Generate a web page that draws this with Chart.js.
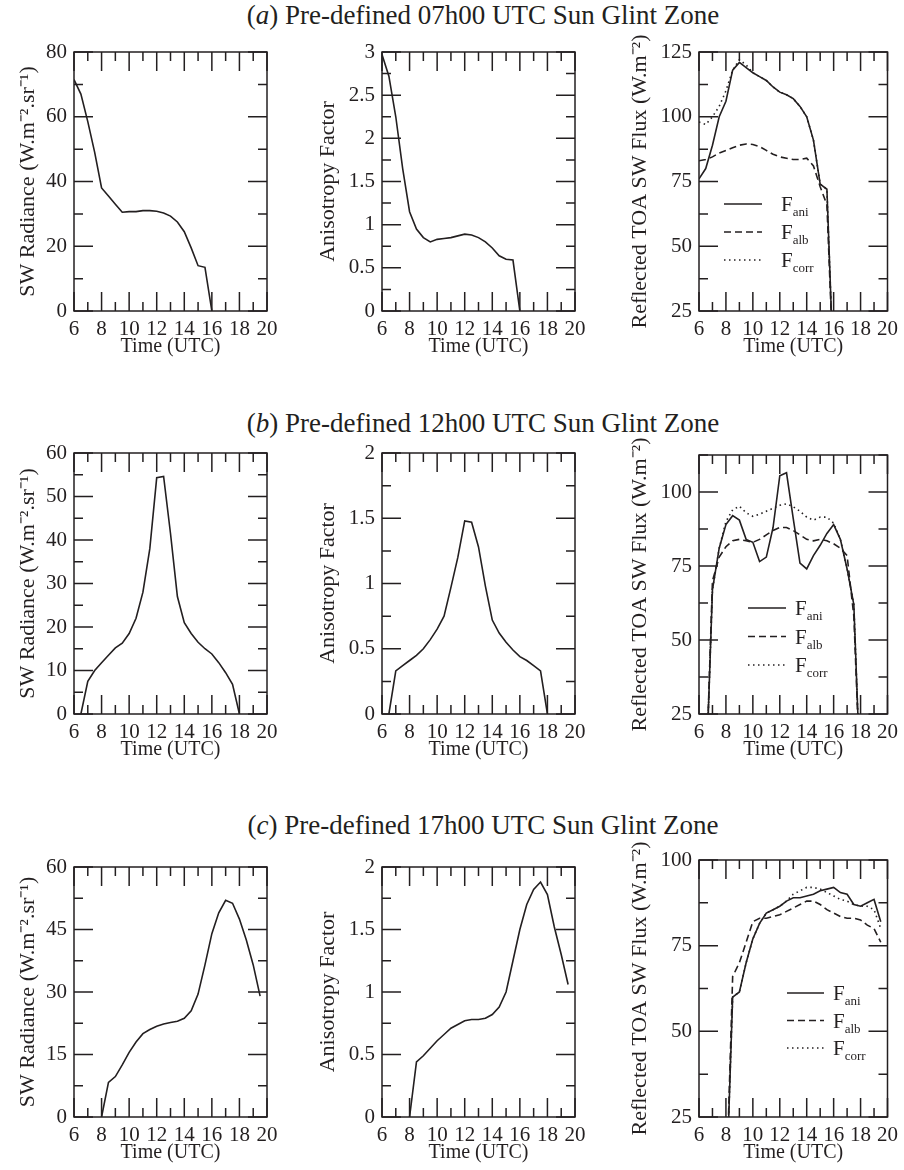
<!DOCTYPE html>
<html><head><meta charset="utf-8">
<script src="https://cdn.jsdelivr.net/npm/chart.js@4.4.1/dist/chart.umd.min.js"></script>
<style>
html,body{margin:0;padding:0;background:#fff;}
body{width:904px;height:1170px;position:relative;overflow:hidden;font-family:"Liberation Serif","Times New Roman",serif;color:#231f20}
.ttl{position:absolute;left:0;width:966px;text-align:center;font-size:27px;line-height:30px;white-space:nowrap}
canvas{position:absolute}
</style></head><body>
<div class="ttl" style="top:0px">(<i>a</i>) Pre-defined 07h00 UTC Sun Glint Zone</div>
<div class="ttl" style="top:408px">(<i>b</i>) Pre-defined 12h00 UTC Sun Glint Zone</div>
<div class="ttl" style="top:810px">(<i>c</i>) Pre-defined 17h00 UTC Sun Glint Zone</div>
<script>
// ---------------- DATA ----------------
const xTickValues = [6, 8, 10, 12, 14, 16, 18, 20];

const timeA = [6,6.5,7,7.5,8,8.5,9,9.5,10,10.5,11,11.5,12,12.5,13,13.5,14,14.5,15,15.5,16];
const radianceA = [71.5,67,58.5,49,38,35.5,33,30.5,30.7,30.7,31,31,30.8,30.3,29.3,27.5,24.5,19.5,14,13.5,0];
const anisoA = [2.97,2.72,2.25,1.65,1.15,0.95,0.85,0.8,0.83,0.84,0.85,0.87,0.89,0.88,0.85,0.8,0.73,0.64,0.6,0.59,0];
const fAniA = [76,80,89,100,106,118,121,119,117,115.5,114,111.5,109.5,108.5,107,104,100,91,74,72,0];
const fAlbA = [83,83.5,84.5,86,87,88,89,89.5,89.3,88.5,87,85.5,84.5,84,83.5,83.5,84,81,73,66,0];
const fCorrA = [98,97,100,104,110,118,122,120,117,115.5,114,111.5,109.5,108.5,107,104,100,91,74,72,0];

const timeB = [6.5,7,7.5,8,8.5,9,9.5,10,10.5,11,11.5,12,12.5,13,13.5,14,14.5,15,15.5,16,16.5,17,17.5,18];
const radianceB = [0,7.5,10,11.8,13.5,15.2,16.3,18.5,22,28,38,54.3,54.6,41.5,27,21,18.5,16.5,15,13.8,11.8,9.5,6.8,0];
const anisoB = [0,0.33,0.37,0.41,0.45,0.5,0.57,0.65,0.75,0.97,1.2,1.48,1.47,1.28,0.98,0.72,0.62,0.55,0.49,0.44,0.41,0.37,0.33,0];
const fAniB = [0,67,81,89,92,90.5,84,83,76.5,78,88,105.5,106.5,91,76,74,78.5,82,86,89,84,74,62,0];
const fAlbB = [0,70,78,81.5,83.5,84,83.5,83,84,85.5,87,88,88,87,85.5,84,83.5,84,83.5,82.5,81,78.5,58,0];
const fCorrB = [0,67,81,90,94,95.2,93,91.8,92.5,93.5,94.5,95.5,96,95,93.5,91.5,90.5,91.5,91.5,89.5,84,74,62,0];

const timeC = [8,8.5,9,9.5,10,10.5,11,11.5,12,12.5,13,13.5,14,14.5,15,15.5,16,16.5,17,17.5,18,18.5,19,19.5];
const radianceC = [0,8.3,9.7,12.5,15.5,18,20,21,21.8,22.3,22.7,23,23.7,25.5,29.5,36.5,44,49,52,51.3,47.5,42.5,36.5,29];
const anisoC = [0,0.44,0.49,0.55,0.61,0.66,0.71,0.74,0.77,0.78,0.78,0.79,0.82,0.88,1.0,1.25,1.5,1.7,1.82,1.88,1.78,1.52,1.3,1.06];
const fAniC = [0,60,61.5,70,77,81.5,84.5,85.5,86.5,88,89,89,89.5,90,91,91.5,92,90.5,90,87,86.5,87.5,88.5,82];
const fAlbC = [0,66,70,76,82,83,83,83.5,84,85,86,87,88,88,87,85.5,84.5,83.5,83,83,82.5,81,80,76];
const fCorrC = [0,60,61.5,70,77,81.5,84.5,85.5,86.5,88,90,91,92,92,91.5,90.5,89.5,88.5,88,87,86.5,86.5,85.5,80];

const radTicksA = [0,20,40,60,80];
const aniTicksA = [0,0.5,1,1.5,2,2.5,3];
const fluxTicksA = [25,50,75,100,125];
const radTicksB = [0,10,20,30,40,50,60];
const aniTicksB = [0,0.5,1,1.5,2];
const fluxTicksB = [25,50,75,100];
const radTicksC = [0,15,30,45,60];
const aniTicksC = [0,0.5,1,1.5,2];
const fluxTicksC = [25,50,75,100];

const legendSubs = ['ani', 'alb', 'corr'];
const radTitle = 'SW Radiance (W.m\u207B\u00B2.sr\u207B\u00B9)';
const aniTitle = 'Anisotropy Factor';
const fluxTitle = 'Reflected TOA SW Flux (W.m\u207B\u00B2)';

// ---------------- STYLE ----------------
const INK = '#231f20';
const FONT = '"Liberation Serif", "Times New Roman", serif';
Chart.defaults.font.family = FONT;
Chart.defaults.color = INK;
const DASH = {solid: [], dash: [7, 4], dot: [1.5, 3.5]};

function isMult(v, step) { const r = v / step; return Math.abs(r - Math.round(r)) < 1e-6; }

const framePlugin = {
  id: 'frame',
  afterDatasetsDraw(chart, args, o) {
    const {ctx, chartArea: ca, scales: {x, y}} = chart;
    ctx.save();
    ctx.strokeStyle = INK;
    ctx.lineWidth = 1.5;
    ctx.setLineDash([]);
    ctx.beginPath();
    for (let v = x.min; v <= x.max + 1e-9; v += o.xMinor) {
      const p = x.getPixelForValue(v);
      const len = isMult(v, o.xMajor) ? 19 : 9;
      ctx.moveTo(p, ca.bottom); ctx.lineTo(p, ca.bottom - len);
      ctx.moveTo(p, ca.top); ctx.lineTo(p, ca.top + len);
    }
    for (let v = y.min; v <= y.max + 1e-9; v += o.yMinor) {
      const p = y.getPixelForValue(v);
      const len = isMult(v, o.yMajor) ? 19 : 9;
      ctx.moveTo(ca.left, p); ctx.lineTo(ca.left + len, p);
      ctx.moveTo(ca.right, p); ctx.lineTo(ca.right - len, p);
    }
    ctx.stroke();
    ctx.strokeRect(ca.left, ca.top, ca.right - ca.left, ca.bottom - ca.top);
    ctx.restore();
  }
};

const legendPlugin = {
  id: 'subLegend',
  afterDraw(chart, args, o) {
    if (!o.show) return;
    const {ctx, chartArea: ca} = chart;
    ctx.save();
    ctx.strokeStyle = INK; ctx.fillStyle = INK; ctx.lineWidth = 1.6;
    const dashes = [DASH.solid, DASH.dash, DASH.dot];
    legendSubs.forEach((sub, i) => {
      const yy = ca.top + o.top + i * o.gap;
      ctx.setLineDash(dashes[i]);
      ctx.beginPath();
      ctx.moveTo(ca.left + o.x0, yy); ctx.lineTo(ca.left + o.x1, yy);
      ctx.stroke();
      ctx.setLineDash([]);
      ctx.textBaseline = 'alphabetic'; ctx.textAlign = 'left';
      ctx.font = '21px ' + FONT;
      ctx.fillText('F', ca.left + o.tx, yy + 7);
      const w = ctx.measureText('F').width;
      ctx.font = '13px ' + FONT;
      ctx.fillText(sub, ca.left + o.tx + w, yy + 12);
    });
    ctx.restore();
  }
};

function panel(c) {
  const W = c.yAxW + (c.right - c.left) + c.padR;
  const H = 20 + (c.bottom - c.top) + 60;
  const cv = document.createElement('canvas');
  cv.width = W; cv.height = H;
  cv.style.width = W + 'px'; cv.style.height = H + 'px';
  cv.style.left = (c.left - c.yAxW) + 'px';
  cv.style.top = (c.top - 20) + 'px';
  document.body.appendChild(cv);
  const datasets = c.series.map(s => ({
    data: c.times.map((t, i) => ({x: t, y: s.values[i]})),
    borderColor: INK, borderWidth: 1.6, borderDash: DASH[s.style],
    pointRadius: 0, tension: 0, fill: false
  }));
  new Chart(cv, {
    type: 'line',
    data: {datasets},
    options: {
      responsive: false, animation: false, devicePixelRatio: 1,
      layout: {padding: {left: 0, top: 20, right: c.padR, bottom: 0}},
      plugins: {
        legend: {display: false}, tooltip: {enabled: false},
        frame: {xMinor: 1, xMajor: 2, yMinor: c.yMinor, yMajor: c.yMajor},
        subLegend: c.legend || {show: false}
      },
      scales: {
        x: {
          type: 'linear', min: 6, max: 20,
          afterBuildTicks: s => { s.ticks = xTickValues.map(v => ({value: v})); },
          afterFit: s => { s.height = 60; },
          grid: {display: false, drawTicks: false}, border: {display: false},
          ticks: {autoSkip: false, maxRotation: 0, padding: 6, font: {size: 21}, color: INK,
                  callback: v => String(v)},
          title: {display: true, text: 'Time (UTC)', font: {size: 20}, color: INK, padding: {top: 0, bottom: 12}}
        },
        y: {
          type: 'linear', min: c.yMin, max: c.yMax,
          afterBuildTicks: s => { s.ticks = c.yTicks.map(v => ({value: v})); },
          afterFit: s => { s.width = c.yAxW; },
          grid: {display: false, drawTicks: false}, border: {display: false},
          ticks: {autoSkip: false, padding: 7, font: {size: 21}, color: INK, callback: v => String(v)},
          title: {display: true, text: c.yTitle, font: {size: 22}, color: INK, padding: {top: c.titleOff, bottom: 0}}
        }
      }
    },
    plugins: [framePlugin, legendPlugin]
  });
}

const colLeft = [74, 382, 699];
const colYAxW = [74, 80, 85];
const colPadR = [20, 20, 12];
const PW = 193;
function col(i) { return {left: colLeft[i], right: colLeft[i] + PW, yAxW: colYAxW[i], padR: colPadR[i]}; }

// Row a
panel(Object.assign(col(0), {top: 52, bottom: 311, times: timeA, yMin: 0, yMax: 80, yTicks: radTicksA, yMajor: 20, yMinor: 10,
  yTitle: radTitle, titleOff: 15, series: [{values: radianceA, style: 'solid'}]}));
panel(Object.assign(col(1), {top: 52, bottom: 311, times: timeA, yMin: 0, yMax: 3, yTicks: aniTicksA, yMajor: 0.5, yMinor: 0.25,
  yTitle: aniTitle, titleOff: 13, series: [{values: anisoA, style: 'solid'}]}));
panel(Object.assign(col(2), {top: 52, bottom: 311, times: timeA, yMin: 25, yMax: 125, yTicks: fluxTicksA, yMajor: 25, yMinor: 12.5,
  yTitle: fluxTitle, titleOff: 13,
  series: [{values: fCorrA, style: 'dot'}, {values: fAlbA, style: 'dash'}, {values: fAniA, style: 'solid'}],
  legend: {show: true, x0: 25, x1: 63, tx: 82, top: 152, gap: 28}}));

// Row b
panel(Object.assign(col(0), {top: 453, bottom: 714, times: timeB, yMin: 0, yMax: 60, yTicks: radTicksB, yMajor: 10, yMinor: 5,
  yTitle: radTitle, titleOff: 15, series: [{values: radianceB, style: 'solid'}]}));
panel(Object.assign(col(1), {top: 453, bottom: 714, times: timeB, yMin: 0, yMax: 2, yTicks: aniTicksB, yMajor: 0.5, yMinor: 0.25,
  yTitle: aniTitle, titleOff: 13, series: [{values: anisoB, style: 'solid'}]}));
panel(Object.assign(col(2), {top: 455, bottom: 714, times: timeB, yMin: 25, yMax: 112.5, yTicks: fluxTicksB, yMajor: 25, yMinor: 12.5,
  yTitle: fluxTitle, titleOff: 13,
  series: [{values: fCorrB, style: 'dot'}, {values: fAlbB, style: 'dash'}, {values: fAniB, style: 'solid'}],
  legend: {show: true, x0: 49, x1: 87, tx: 96, top: 153, gap: 28.5}}));

// Row c
panel(Object.assign(col(0), {top: 867, bottom: 1117, times: timeC, yMin: 0, yMax: 60, yTicks: radTicksC, yMajor: 15, yMinor: 7.5,
  yTitle: radTitle, titleOff: 15, series: [{values: radianceC, style: 'solid'}]}));
panel(Object.assign(col(1), {top: 867, bottom: 1117, times: timeC, yMin: 0, yMax: 2, yTicks: aniTicksC, yMajor: 0.5, yMinor: 0.25,
  yTitle: aniTitle, titleOff: 13, series: [{values: anisoC, style: 'solid'}]}));
panel(Object.assign(col(2), {top: 860, bottom: 1117, times: timeC, yMin: 25, yMax: 100, yTicks: fluxTicksC, yMajor: 25, yMinor: 12.5,
  yTitle: fluxTitle, titleOff: 13,
  series: [{values: fCorrC, style: 'dot'}, {values: fAlbC, style: 'dash'}, {values: fAniC, style: 'solid'}],
  legend: {show: true, x0: 88, x1: 125, tx: 134, top: 133, gap: 27.5}}));
</script>
</body></html>
